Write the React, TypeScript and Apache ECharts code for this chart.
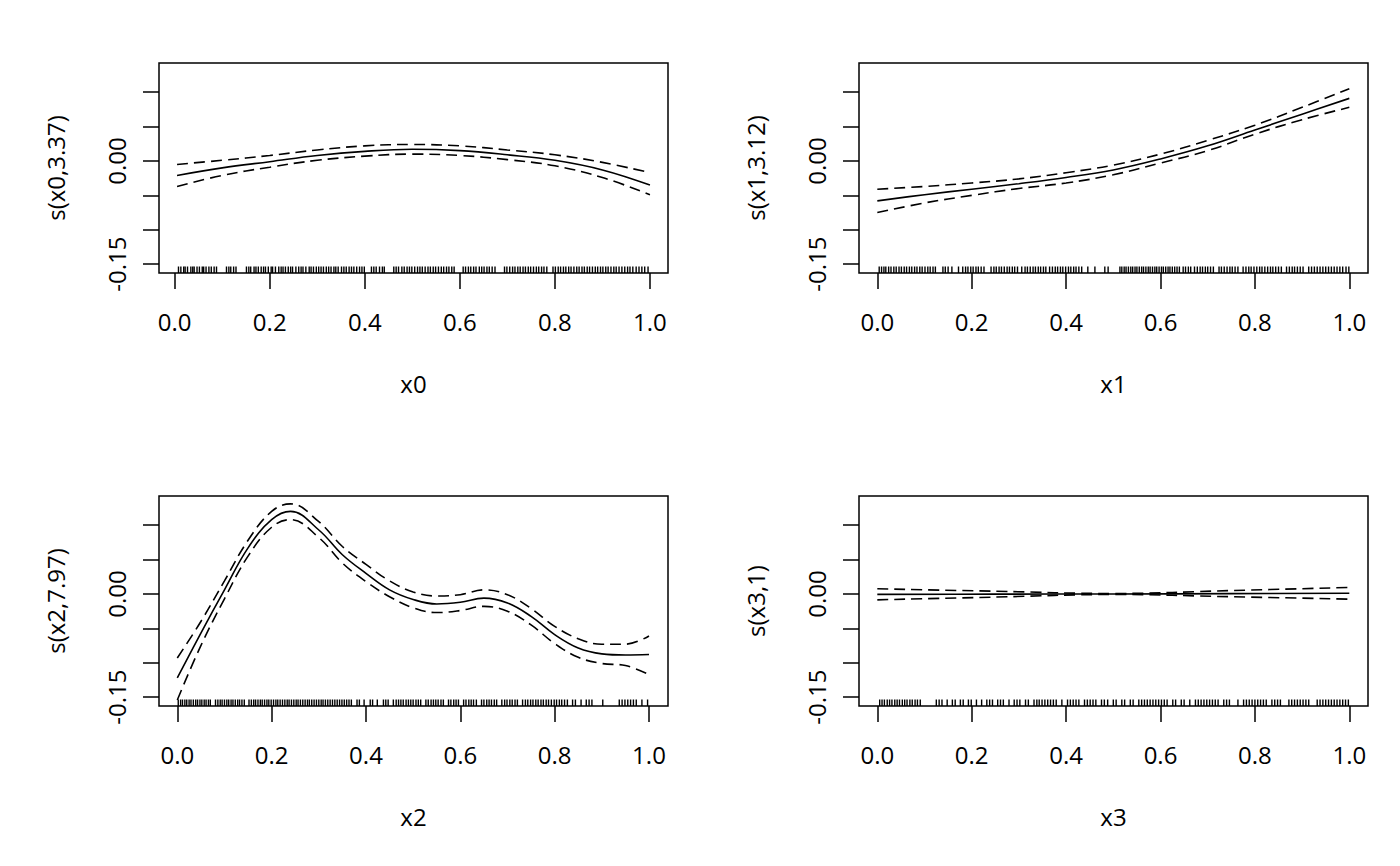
import React, { useEffect, useRef } from "react";
import * as echarts from "echarts";

// ---- tick / label values ----
const xTicks = [0, 0.2, 0.4, 0.6, 0.8, 1.0];
const yTicks = [-0.15, -0.1, -0.05, 0, 0.05, 0.1];
const yLabelTicks = [-0.15, 0];
const xTitles = ["x0", "x1", "x2", "x3"];
const yTitles = ["s(x0,3.37)", "s(x1,3.12)", "s(x2,7.97)", "s(x3,1)"];

// ---- panel 1: s(x0) ----
const p1X = [0.005, 0.1, 0.2, 0.3, 0.4, 0.5, 0.6, 0.7, 0.8, 0.9, 1.0];
const p1Fit = [-0.021, -0.01, -0.001, 0.008, 0.014, 0.017, 0.015, 0.009, 0.001, -0.013, -0.035];
const p1Up = [-0.005, 0.001, 0.008, 0.016, 0.022, 0.024, 0.022, 0.016, 0.009, -0.002, -0.017];
const p1Lo = [-0.037, -0.021, -0.009, 0.001, 0.007, 0.01, 0.008, 0.002, -0.007, -0.024, -0.049];

// ---- panel 2: s(x1) ----
const p2X = [0.0, 0.1, 0.2, 0.3, 0.4, 0.5, 0.6, 0.7, 0.8, 0.9, 1.0];
const p2Fit = [-0.058, -0.049, -0.041, -0.033, -0.024, -0.013, 0.003, 0.022, 0.045, 0.068, 0.091];
const p2Up = [-0.041, -0.037, -0.032, -0.026, -0.017, -0.006, 0.01, 0.03, 0.052, 0.078, 0.105];
const p2Lo = [-0.075, -0.061, -0.05, -0.04, -0.032, -0.02, -0.003, 0.015, 0.039, 0.06, 0.078];

// ---- panel 3: s(x2) ----
const p3X = [0.0, 0.05, 0.1, 0.15, 0.2, 0.24, 0.3, 0.35, 0.4, 0.45, 0.5, 0.55, 0.6, 0.65, 0.7, 0.75, 0.8, 0.85, 0.9, 0.95, 1.0];
const p3Fit = [-0.122, -0.057, 0.006, 0.067, 0.108, 0.12, 0.093, 0.057, 0.03, 0.006, -0.008, -0.0145, -0.012, -0.006, -0.013, -0.0325, -0.059, -0.0785, -0.087, -0.0887, -0.088];
const p3Up = [-0.093, -0.04, 0.019, 0.078, 0.12, 0.131, 0.105, 0.069, 0.043, 0.019, 0.003, -0.003, -0.001, 0.006, -0.001, -0.021, -0.047, -0.065, -0.073, -0.073, -0.061];
const p3Lo = [-0.154, -0.075, -0.007, 0.055, 0.097, 0.108, 0.082, 0.045, 0.018, -0.004, -0.02, -0.027, -0.024, -0.018, -0.025, -0.045, -0.072, -0.092, -0.101, -0.104, -0.117];

// ---- panel 4: s(x3) ----
const p4X = [0.0, 0.25, 0.5, 0.75, 1.0];
const p4Fit = [-0.0005, -0.0002, 0.0, 0.0005, 0.001];
const p4Up = [0.0075, 0.004, 0.0007, 0.005, 0.0095];
const p4Lo = [-0.0085, -0.0045, -0.0007, -0.004, -0.0075];

// ---- rug values (covariate observations) ----
const rug0 = [0.008, 0.013, 0.019, 0.022, 0.027, 0.034, 0.038, 0.041, 0.047, 0.052, 0.058, 0.061, 0.066, 0.072, 0.077, 0.083, 0.088, 0.109, 0.114, 0.118, 0.124, 0.129, 0.151, 0.156, 0.16, 0.167, 0.171, 0.176, 0.182, 0.187, 0.191, 0.197, 0.203, 0.206, 0.212, 0.219, 0.224, 0.228, 0.233, 0.239, 0.244, 0.248, 0.255, 0.261, 0.266, 0.27, 0.276, 0.283, 0.287, 0.292, 0.298, 0.303, 0.308, 0.313, 0.319, 0.324, 0.329, 0.335, 0.339, 0.344, 0.351, 0.356, 0.361, 0.367, 0.372, 0.377, 0.383, 0.389, 0.394, 0.399, 0.414, 0.419, 0.424, 0.431, 0.437, 0.441, 0.461, 0.466, 0.471, 0.478, 0.483, 0.489, 0.494, 0.499, 0.505, 0.511, 0.516, 0.521, 0.527, 0.533, 0.538, 0.544, 0.549, 0.555, 0.561, 0.566, 0.572, 0.577, 0.583, 0.588, 0.607, 0.612, 0.618, 0.623, 0.629, 0.634, 0.641, 0.646, 0.651, 0.657, 0.662, 0.668, 0.674, 0.694, 0.699, 0.705, 0.711, 0.716, 0.722, 0.727, 0.733, 0.738, 0.744, 0.749, 0.755, 0.761, 0.766, 0.772, 0.777, 0.783, 0.796, 0.801, 0.807, 0.812, 0.818, 0.823, 0.829, 0.834, 0.84, 0.846, 0.851, 0.857, 0.862, 0.868, 0.873, 0.879, 0.885, 0.89, 0.896, 0.901, 0.907, 0.912, 0.918, 0.924, 0.929, 0.935, 0.941, 0.947, 0.953, 0.958, 0.964, 0.971, 0.977, 0.983, 0.989, 0.996];
const rug1 = [0.004, 0.009, 0.014, 0.018, 0.024, 0.029, 0.035, 0.04, 0.046, 0.051, 0.057, 0.062, 0.068, 0.073, 0.079, 0.084, 0.09, 0.095, 0.101, 0.107, 0.112, 0.118, 0.123, 0.139, 0.144, 0.15, 0.158, 0.172, 0.181, 0.187, 0.192, 0.198, 0.203, 0.209, 0.214, 0.22, 0.226, 0.241, 0.247, 0.252, 0.258, 0.263, 0.269, 0.275, 0.28, 0.286, 0.291, 0.297, 0.306, 0.313, 0.318, 0.324, 0.33, 0.335, 0.341, 0.346, 0.352, 0.357, 0.365, 0.371, 0.377, 0.382, 0.388, 0.393, 0.399, 0.405, 0.41, 0.416, 0.421, 0.427, 0.433, 0.446, 0.461, 0.482, 0.489, 0.514, 0.518, 0.523, 0.527, 0.532, 0.537, 0.541, 0.546, 0.55, 0.555, 0.56, 0.564, 0.569, 0.574, 0.578, 0.583, 0.588, 0.592, 0.597, 0.602, 0.606, 0.611, 0.616, 0.62, 0.625, 0.63, 0.635, 0.64, 0.648, 0.653, 0.659, 0.664, 0.672, 0.678, 0.684, 0.689, 0.695, 0.7, 0.706, 0.712, 0.724, 0.729, 0.735, 0.741, 0.747, 0.752, 0.758, 0.764, 0.775, 0.781, 0.787, 0.792, 0.798, 0.804, 0.81, 0.815, 0.821, 0.827, 0.833, 0.838, 0.844, 0.85, 0.856, 0.867, 0.873, 0.879, 0.884, 0.89, 0.896, 0.902, 0.914, 0.92, 0.926, 0.932, 0.938, 0.944, 0.95, 0.956, 0.962, 0.968, 0.974, 0.98, 0.986, 0.993, 0.999];
const rug2 = [0.002, 0.007, 0.011, 0.016, 0.02, 0.025, 0.029, 0.034, 0.039, 0.043, 0.048, 0.052, 0.057, 0.061, 0.066, 0.07, 0.081, 0.086, 0.091, 0.095, 0.1, 0.105, 0.109, 0.114, 0.118, 0.123, 0.128, 0.132, 0.137, 0.142, 0.152, 0.157, 0.162, 0.166, 0.171, 0.176, 0.18, 0.185, 0.19, 0.194, 0.199, 0.204, 0.209, 0.213, 0.218, 0.223, 0.228, 0.233, 0.237, 0.242, 0.247, 0.252, 0.256, 0.261, 0.266, 0.271, 0.276, 0.28, 0.285, 0.29, 0.295, 0.3, 0.305, 0.309, 0.314, 0.319, 0.324, 0.329, 0.334, 0.339, 0.344, 0.349, 0.354, 0.359, 0.364, 0.369, 0.381, 0.386, 0.396, 0.409, 0.414, 0.424, 0.437, 0.442, 0.447, 0.458, 0.464, 0.469, 0.474, 0.479, 0.485, 0.49, 0.495, 0.5, 0.506, 0.511, 0.516, 0.527, 0.532, 0.538, 0.543, 0.548, 0.553, 0.559, 0.564, 0.575, 0.58, 0.586, 0.591, 0.596, 0.607, 0.612, 0.618, 0.623, 0.628, 0.634, 0.645, 0.65, 0.656, 0.661, 0.666, 0.672, 0.677, 0.688, 0.694, 0.699, 0.705, 0.71, 0.716, 0.721, 0.732, 0.738, 0.743, 0.749, 0.754, 0.76, 0.765, 0.771, 0.776, 0.782, 0.787, 0.793, 0.799, 0.804, 0.81, 0.815, 0.821, 0.827, 0.838, 0.844, 0.856, 0.867, 0.873, 0.879, 0.902, 0.937, 0.943, 0.949, 0.955, 0.961, 0.967, 0.973, 0.985, 0.997];
const rug3 = [0.005, 0.01, 0.015, 0.021, 0.026, 0.031, 0.037, 0.042, 0.047, 0.053, 0.058, 0.063, 0.069, 0.074, 0.08, 0.085, 0.091, 0.125, 0.131, 0.137, 0.148, 0.159, 0.165, 0.176, 0.182, 0.193, 0.199, 0.21, 0.221, 0.232, 0.238, 0.244, 0.255, 0.261, 0.267, 0.279, 0.29, 0.296, 0.302, 0.314, 0.32, 0.332, 0.338, 0.343, 0.349, 0.355, 0.361, 0.367, 0.373, 0.379, 0.391, 0.403, 0.409, 0.415, 0.421, 0.427, 0.439, 0.445, 0.451, 0.457, 0.463, 0.475, 0.481, 0.488, 0.5, 0.506, 0.518, 0.524, 0.536, 0.542, 0.554, 0.56, 0.566, 0.572, 0.578, 0.584, 0.59, 0.596, 0.602, 0.608, 0.614, 0.626, 0.632, 0.644, 0.65, 0.662, 0.674, 0.68, 0.686, 0.692, 0.698, 0.704, 0.71, 0.716, 0.722, 0.734, 0.74, 0.746, 0.764, 0.776, 0.782, 0.788, 0.794, 0.8, 0.806, 0.812, 0.818, 0.824, 0.836, 0.842, 0.848, 0.854, 0.872, 0.878, 0.884, 0.89, 0.896, 0.902, 0.908, 0.914, 0.932, 0.938, 0.944, 0.95, 0.956, 0.962, 0.968, 0.974, 0.98, 0.986, 0.992, 0.998];

// ---- layout (pixels) ----
const FONT = "'Open Sans', 'Noto Sans', sans-serif";
const FS = 24;
const Y_MIN = -0.1628;
const Y_MAX = 0.1424;
const panelLayout = [
  { left: 159, top: 63, xMin: -0.033, xMax: 1.038 },
  { left: 859, top: 63, xMin: -0.0388, xMax: 1.0396 },
  { left: 159, top: 496, xMin: -0.0388, xMax: 1.0403 },
  { left: 859, top: 496, xMin: -0.0388, xMax: 1.0396 },
];
const GRID_W = 509;
const GRID_H = 210;

const panelData = [
  { xs: p1X, fit: p1Fit, up: p1Up, lo: p1Lo, rug: rug0 },
  { xs: p2X, fit: p2Fit, up: p2Up, lo: p2Lo, rug: rug1 },
  { xs: p3X, fit: p3Fit, up: p3Up, lo: p3Lo, rug: rug2 },
  { xs: p4X, fit: p4Fit, up: p4Up, lo: p4Lo, rug: rug3 },
];

function pairs(xs: number[], ys: number[]) {
  return xs.map((x, i) => [x, ys[i]]);
}

function buildOption() {
  const grid: any[] = [];
  const xAxis: any[] = [];
  const yAxis: any[] = [];
  const series: any[] = [];
  panelLayout.forEach((p, i) => {
    grid.push({
      left: p.left,
      top: p.top,
      width: GRID_W,
      height: GRID_H,
      show: true,
      borderColor: "#000",
      borderWidth: 1.5,
      backgroundColor: "transparent",
      containLabel: false,
    });
    xAxis.push({
      type: "value",
      gridIndex: i,
      position: "bottom",
      min: p.xMin,
      max: p.xMax,
      axisLine: { show: false, onZero: false },
      splitLine: { show: false },
      axisTick: { show: true, length: 16, inside: false, customValues: xTicks, lineStyle: { color: "#000", width: 1.5 } },
      axisLabel: {
        customValues: xTicks,
        formatter: (v: number) => v.toFixed(1),
        margin: 36,
        fontSize: FS,
        fontFamily: FONT,
        color: "#000",
        showMinLabel: true,
        showMaxLabel: true,
        hideOverlap: false,
      },
      name: xTitles[i],
      nameLocation: "middle",
      nameGap: 98,
      nameTextStyle: { fontSize: FS, fontFamily: FONT, color: "#000" },
    });
    yAxis.push({
      type: "value",
      gridIndex: i,
      position: "left",
      min: Y_MIN,
      max: Y_MAX,
      axisLine: { show: false, onZero: false },
      splitLine: { show: false },
      axisTick: { show: true, length: 16, inside: false, customValues: yTicks, lineStyle: { color: "#000", width: 1.5 } },
      axisLabel: {
        customValues: yLabelTicks,
        formatter: (v: number) => v.toFixed(2),
        rotate: 90,
        margin: 31,
        fontSize: FS,
        fontFamily: FONT,
        color: "#000",
        showMinLabel: true,
        showMaxLabel: true,
      },
      name: yTitles[i],
      nameLocation: "middle",
      nameRotate: 90,
      nameGap: 92,
      nameTextStyle: { fontSize: FS, fontFamily: FONT, color: "#000" },
    });
    const d = panelData[i];
    series.push({
      type: "line",
      xAxisIndex: i,
      yAxisIndex: i,
      data: pairs(d.xs, d.fit),
      smooth: 0.4,
      symbol: "none",
      lineStyle: { color: "#000", width: 1.6, type: "solid" },
      silent: true,
    });
    series.push({
      type: "line",
      xAxisIndex: i,
      yAxisIndex: i,
      data: pairs(d.xs, d.up),
      smooth: 0.4,
      symbol: "none",
      lineStyle: { color: "#000", width: 1.6, type: [11, 6] },
      silent: true,
    });
    series.push({
      type: "line",
      xAxisIndex: i,
      yAxisIndex: i,
      data: pairs(d.xs, d.lo),
      smooth: 0.4,
      symbol: "none",
      lineStyle: { color: "#000", width: 1.6, type: [11, 6] },
      silent: true,
    });
    series.push({
      type: "custom",
      xAxisIndex: i,
      yAxisIndex: i,
      data: d.rug.map((v) => [v, Y_MIN]),
      silent: true,
      renderItem: (_params: any, api: any) => {
        const pt = api.coord([api.value(0), Y_MIN]);
        return {
          type: "line",
          shape: { x1: pt[0], y1: pt[1], x2: pt[0], y2: pt[1] - 6.5 },
          style: { stroke: "#000", lineWidth: 1.4 },
        };
      },
    });
  });
  return {
    animation: false,
    backgroundColor: "#fff",
    grid,
    xAxis,
    yAxis,
    series,
  };
}

export default function App() {
  const ref = useRef<HTMLDivElement>(null);
  useEffect(() => {
    if (!ref.current) return;
    const chart = echarts.init(ref.current, undefined, { renderer: "svg" });
    chart.setOption(buildOption() as any);
    return () => chart.dispose();
  }, []);
  return (
    <div
      ref={ref}
      style={{ position: "fixed", left: 0, top: 0, width: 1400, height: 866, background: "#fff" }}
    />
  );
}
